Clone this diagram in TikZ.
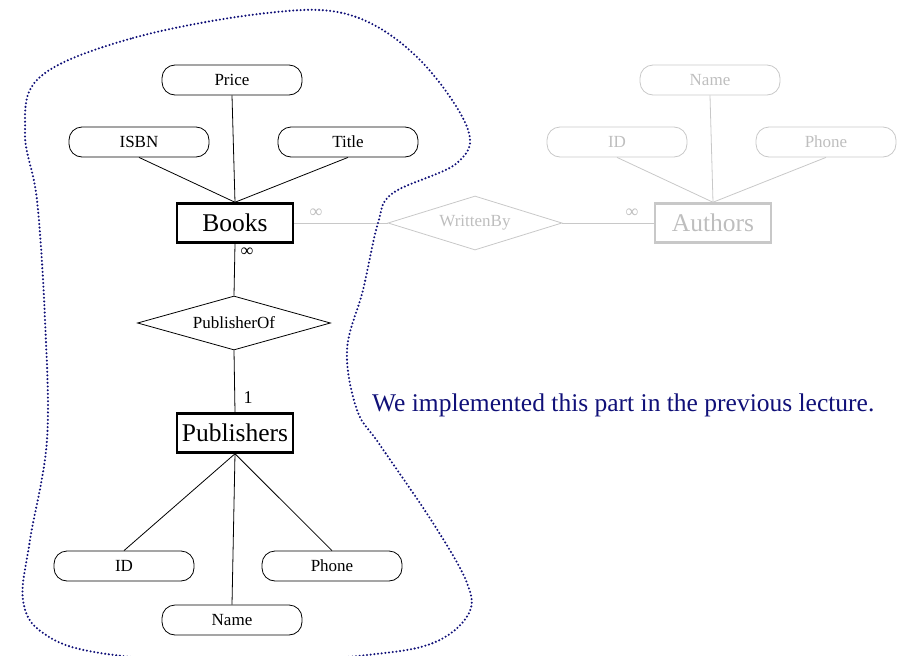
\documentclass[tikz,border=0pt]{standalone}
\usepackage{fontspec}
\setmainfont{Liberation Serif}
\usepackage{xcolor}
\definecolor{ernavy}{RGB}{16,16,120}
\definecolor{ergray}{RGB}{200,200,200}
\definecolor{ergraytext}{RGB}{190,190,190}
\usetikzlibrary{shapes.geometric,positioning}

\begin{document}
\begin{tikzpicture}[x=1pt,y=-1pt,
    attr/.style={draw,rounded corners=13pt,line width=0.8pt,
        minimum width=140pt,minimum height=30pt,inner sep=0pt,
        font=\fontsize{17}{20}\selectfont},
    entity/.style={draw,line width=2.5pt,minimum width=116pt,minimum height=39pt,
        inner sep=0pt,font=\fontsize{25.5}{28}\selectfont},
    rel/.style={draw,diamond,line width=0.8pt,aspect=3.4,inner sep=1pt,
        font=\fontsize{17}{20}\selectfont},
    card/.style={inner sep=0pt,font=\fontsize{18}{20}\selectfont},
    faded/.style={draw=ergray,text=ergraytext},
    link/.style={line width=0.8pt}]
  \useasboundingbox (0,0) rectangle (903,656);

  % Books with its attributes
  \node[entity] (books) at (235,223) {Books};
  \node[attr] (price) at (232,80) {Price};
  \node[attr] (isbn) at (139,142) {ISBN};
  \node[attr] (title) at (348,142) {Title};
  \draw[link] (price.south) -- (books.north);
  \draw[link] (isbn.south) -- (books.north);
  \draw[link] (title.south) -- (books.north);

  % PublisherOf relationship
  \node[rel,minimum width=193pt,minimum height=54pt] (pubof) at (234,323) {PublisherOf};
  \draw[link] (books.south) -- (pubof.north);
  \node[card] (cbooks) at (247,252) {∞};

  % Publishers with its attributes
  \node[entity] (pubs) at (235,433) {Publishers};
  \draw[link] (pubof.south) -- (pubs.north);
  \node[card] (cpubs) at (248,398) {1};
  \node[attr] (pid) at (124,566) {ID};
  \node[attr] (pphone) at (332,566) {Phone};
  \node[attr] (pname) at (232,620) {Name};
  \draw[link] (pubs.south) -- (pid.north);
  \draw[link] (pubs.south) -- (pname.north);
  \draw[link] (pubs.south) -- (pphone.north);

  % Authors part (faded)
  \node[entity,faded] (authors) at (713,223) {Authors};
  \node[attr,faded] (aname) at (710,80) {Name};
  \node[attr,faded] (aid) at (617,142) {ID};
  \node[attr,faded] (aphone) at (826,142) {Phone};
  \draw[link,ergray] (aname.south) -- (authors.north);
  \draw[link,ergray] (aid.south) -- (authors.north);
  \draw[link,ergray] (aphone.south) -- (authors.north);
  \node[rel,faded,minimum width=174pt,minimum height=54pt] (wrote) at (475,223) {WrittenBy};
  \draw[link,ergray] (books.east) -- (wrote.west);
  \draw[link,ergray] (wrote.east) -- (authors.west);
  \node[card,text=ergraytext] (cbw) at (316,213) {∞};
  \node[card,text=ergraytext] (caw) at (632,213) {∞};

  % Dotted outline round the implemented part
  \draw[ernavy,line width=2.3pt,line cap=round,dash pattern=on 0pt off 3.7pt]
    plot[smooth cycle,tension=0.6] coordinates {
      (40,77) (133,38) (267,13) (350,15) (417,57) (467,127) (457,163)
      (393,193) (378,223) (363,290) (347,350) (357,410) (380,445)
      (433,523) (467,583) (468,615) (433,643) (367,655) (240,664)
      (100,653) (43,633) (23,600) (30,540) (47,440) (45,320) (37,200) (25,133)};

  % Note
  \node[anchor=west,inner sep=0pt,text=ernavy,font=\fontsize{25.5}{28}\selectfont]
    (note) at (372,405) {We implemented this part in the previous lecture.};
\end{tikzpicture}
\end{document}
